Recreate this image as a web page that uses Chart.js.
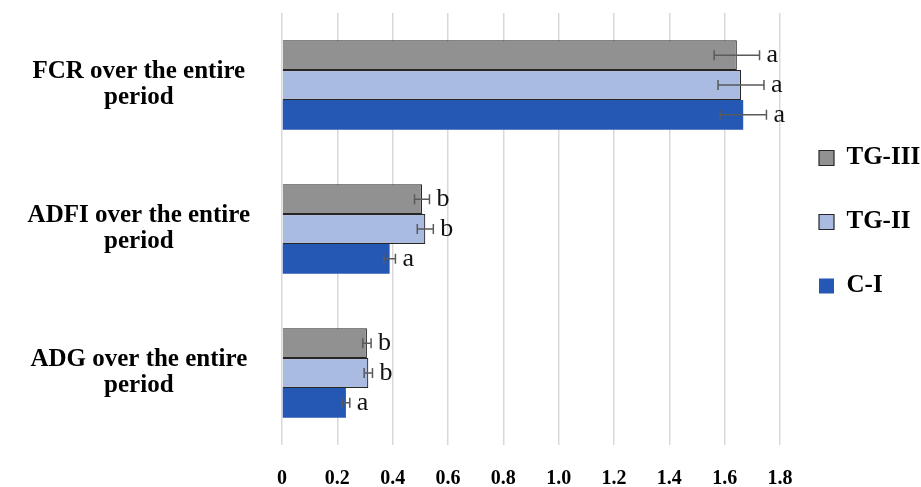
<!DOCTYPE html>
<html>
<head>
<meta charset="utf-8">
<script src="https://cdn.jsdelivr.net/npm/chart.js@4/dist/chart.umd.min.js"></script>
<style>
  html, body { margin: 0; padding: 0; background: #ffffff; }
  #wrap { width: 921px; height: 487px; }
</style>
</head>
<body>
<div id="wrap"><canvas id="chart" width="921" height="487"></canvas></div>
<script>
// Performance indicators over the whole trial period
const categories = [
  ['FCR over the entire', 'period'],
  ['ADFI over the entire', 'period'],
  ['ADG over the entire', 'period']
];

const seriesNames = ['TG-III', 'TG-II', 'C-I'];

const tg3Values = [1.644, 0.506, 0.307];
const tg2Values = [1.659, 0.518, 0.312];
const c1Values  = [1.667, 0.389, 0.231];

const tg3Errors = [0.082, 0.027, 0.015];
const tg2Errors = [0.083, 0.029, 0.015];
const c1Errors  = [0.084, 0.021, 0.014];

const tg3Letters = ['a', 'b', 'b'];
const tg2Letters = ['a', 'b', 'b'];
const c1Letters  = ['a', 'a', 'a'];

const xTickLabels = ['0', '0.2', '0.4', '0.6', '0.8', '1.0', '1.2', '1.4', '1.6', '1.8'];

const SERIF = "'Liberation Serif', 'DejaVu Serif', serif";

// Error bars plus significance letters, placed with the x scale
const errorBarPlugin = {
  id: 'errorBars',
  afterDatasetsDraw(chart) {
    const ctx = chart.ctx;
    const xScale = chart.scales.x;
    chart.data.datasets.forEach((ds, di) => {
      const meta = chart.getDatasetMeta(di);
      meta.data.forEach((bar, i) => {
        const v = ds.data[i];
        const e = ds.errors[i];
        const x0 = xScale.getPixelForValue(v - e);
        const x1 = xScale.getPixelForValue(v + e);
        const y = bar.y;
        ctx.save();
        ctx.strokeStyle = '#5a5a5a';
        ctx.lineWidth = 1.5;
        ctx.beginPath();
        ctx.moveTo(x0, y); ctx.lineTo(x1, y);
        ctx.moveTo(x0, y - 5); ctx.lineTo(x0, y + 5);
        ctx.moveTo(x1, y - 5); ctx.lineTo(x1, y + 5);
        ctx.stroke();
        ctx.fillStyle = '#111111';
        ctx.font = '26px ' + SERIF;
        ctx.textAlign = 'left';
        ctx.textBaseline = 'middle';
        ctx.fillText(ds.letters[i], x1 + 7, y);
        ctx.restore();
      });
    });
  }
};

const whiteBg = {
  id: 'whiteBg',
  beforeDraw(chart) {
    const ctx = chart.ctx;
    ctx.save();
    ctx.fillStyle = '#ffffff';
    ctx.fillRect(0, 0, chart.width, chart.height);
    ctx.restore();
  }
};

new Chart(document.getElementById('chart'), {
  type: 'bar',
  data: {
    labels: categories,
    datasets: [
      {
        label: seriesNames[0], data: tg3Values, errors: tg3Errors, letters: tg3Letters,
        backgroundColor: '#919191', borderColor: '#262626', borderWidth: 1.2
      },
      {
        label: seriesNames[1], data: tg2Values, errors: tg2Errors, letters: tg2Letters,
        backgroundColor: '#a9bbe1', borderColor: '#262626', borderWidth: 1.2
      },
      {
        label: seriesNames[2], data: c1Values, errors: c1Errors, letters: c1Letters,
        backgroundColor: '#2557b4', borderColor: '#2557b4', borderWidth: 0
      }
    ]
  },
  options: {
    indexAxis: 'y',
    responsive: false,
    animation: false,
    devicePixelRatio: 1,
    categoryPercentage: 0.62,
    barPercentage: 1.0,
    layout: { padding: { top: 13, left: 0, right: 0, bottom: 0 } },
    scales: {
      x: {
        min: 0, max: 1.8,
        ticks: {
          stepSize: 0.2,
          padding: 22,
          color: '#000000',
          font: { family: SERIF, size: 20, weight: 'bold' },
          callback: (value, index) => xTickLabels[index]
        },
        grid: { color: '#d9d9d9', lineWidth: 1.5, drawTicks: false },
        border: { display: false },
        afterFit(scale) {
          scale.height = 42;
          scale.paddingLeft = 0;
          scale.paddingRight = 0;
        }
      },
      y: {
        ticks: {
          color: '#000000',
          crossAlign: 'center',
          padding: 24,
          font: { family: SERIF, size: 25, weight: 'bold', lineHeight: 1.04 }
        },
        grid: { display: false },
        border: { display: false },
        afterFit(scale) {
          scale.width = 282;
          scale.paddingTop = 0;
          scale.paddingBottom = 0;
        }
      }
    },
    plugins: {
      tooltip: { enabled: false },
      legend: {
        position: 'right',
        align: 'start',
        maxWidth: 141,
        title: { display: true, text: '', font: { size: 10 }, padding: { top: 81.5, bottom: 0 } },
        labels: {
          boxWidth: 15,
          boxHeight: 15,
          padding: 39,
          color: '#000000',
          font: { family: SERIF, size: 25, weight: 'bold' }
        }
      }
    }
  },
  plugins: [whiteBg, errorBarPlugin]
});
</script>
</body>
</html>
